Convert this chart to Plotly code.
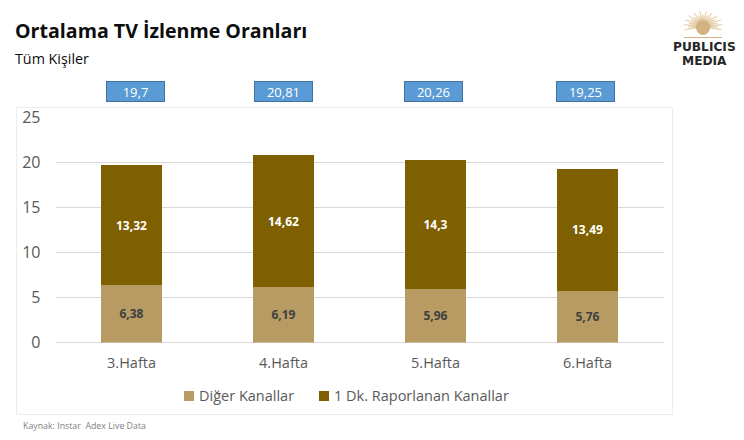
import math
import plotly.graph_objects as go

categories = ["3.Hafta", "4.Hafta", "5.Hafta", "6.Hafta"]
series_names = ["Diğer Kanallar", "1 Dk. Raporlanan Kanallar"]
diger = [6.38, 6.19, 5.96, 5.76]
raporlanan = [13.32, 14.62, 14.3, 13.49]
totals = [19.7, 20.81, 20.26, 19.25]
y_ticks = [0, 5, 10, 15, 20, 25]

W, H = 744, 440
FONT = "Open Sans"
GREY = "#595959"
TAN = "#B89B62"
BROWN = "#7F6000"


def px(x):
    return x / W


def py(y):
    return 1 - y / H


def comma(v):
    return f"{v:g}".replace(".", ",")


fig = go.Figure()
fig.add_bar(
    name=series_names[0], x=categories, y=diger,
    marker=dict(color=TAN, line_width=0),
    text=[comma(v) for v in diger], textposition="inside", insidetextanchor="middle",
    textangle=0, constraintext="none",
    textfont=dict(family=FONT, size=12, color="#404040", weight="bold"),
    hoverinfo="x+y",
)
fig.add_bar(
    name=series_names[1], x=categories, y=raporlanan,
    marker=dict(color=BROWN, line_width=0),
    text=[comma(v) for v in raporlanan], textposition="inside", insidetextanchor="middle",
    textangle=0, constraintext="none",
    textfont=dict(family=FONT, size=12, color="#FFFFFF", weight="bold"),
    hoverinfo="x+y",
)


def label(text, x, y, size, color, family=FONT, anchor="left"):
    return dict(text=text, xref="paper", yref="paper", x=px(x), y=py(y),
                xanchor=anchor, yanchor="middle", showarrow=False,
                font=dict(family=family, size=size, color=color))


annotations = [
    label("<b>Ortalama TV İzlenme Oranları</b>", 12.5, 31, 19.6, "#0D0D0D"),
    label("Tüm Kişiler", 12.5, 58.5, 14.3, "#0D0D0D"),
    label("Kaynak: Instar  Adex Live Data", 21, 425.5, 8.8, "#7F7F7F"),
    label("<b>PUBLICIS</b>", 704.5, 47.5, 12.2, "#262626", "DejaVu Sans", "center"),
    label("<b>MEDIA</b>", 704.5, 61, 12.2, "#262626", "DejaVu Sans", "center"),
    label(series_names[0], 197, 395.5, 14.5, GREY),
    label(series_names[1], 332, 395.5, 14.5, GREY),
]
box_shift = [4, 0, -2, -2]
for c, t, s in zip(categories, totals, box_shift):
    annotations.append(dict(
        text=comma(t), xref="x", yref="paper", x=c, y=py(91.5), xshift=s,
        xanchor="center", yanchor="middle", showarrow=False,
        width=57, height=19, align="center", valign="middle",
        bgcolor="#5B9BD5", bordercolor="#41719C", borderwidth=1, borderpad=0,
        font=dict(family=FONT, size=13, color="#FFFFFF"),
    ))

# Logo sunburst: decoration in pixel-derived paper coordinates
cx, cy = 703, 26
rays = []
n = 22
for i in range(n + 1):
    a = math.pi * (0.92 + 1.16 * i / n)
    r = 15 if i % 2 == 0 else 11.5
    a1, a2 = a - 0.08, a + 0.08
    rays.append(
        f"M{px(cx + 6 * math.cos(a1)):.5f},{py(cy + 6 * math.sin(a1)):.5f} "
        f"L{px(cx + r * math.cos(a) * 1.3):.5f},{py(cy + r * math.sin(a)):.5f} "
        f"L{px(cx + 6 * math.cos(a2)):.5f},{py(cy + 6 * math.sin(a2)):.5f} Z"
    )
shapes = [
    dict(type="rect", xref="paper", yref="paper", x0=px(16.5), x1=px(672.5),
         y0=py(414.5), y1=py(107.5), line=dict(color="#EDEDED", width=1),
         fillcolor="rgba(0,0,0,0)", layer="below"),
    dict(type="path", xref="paper", yref="paper", path=" ".join(rays),
         fillcolor="#E0C79C", line=dict(color="#E0C79C", width=0.5)),
    dict(type="circle", xref="paper", yref="paper", x0=px(cx - 7), x1=px(cx + 7),
         y0=py(cy + 9), y1=py(cy - 6), fillcolor="#D2B37F", line_width=0),
    dict(type="line", xref="paper", yref="paper", x0=px(684), x1=px(722),
         y0=py(37.5), y1=py(37.5), line=dict(color="#D2B37F", width=1)),
    dict(type="rect", xref="paper", yref="paper", x0=px(184), x1=px(194),
         y0=py(401), y1=py(391), fillcolor=TAN, line_width=0),
    dict(type="rect", xref="paper", yref="paper", x0=px(319), x1=px(329),
         y0=py(401), y1=py(391), fillcolor=BROWN, line_width=0),
]

fig.update_layout(
    width=W, height=H, autosize=False,
    margin=dict(l=0, r=0, t=0, b=0),
    paper_bgcolor="white", plot_bgcolor="white",
    barmode="stack", bargap=0.6,
    font=dict(family=FONT, color=GREY),
    xaxis=dict(domain=[px(55.5), px(663.5)], showgrid=False, ticks="", showline=False,
               tickfont=dict(size=14.5, color=GREY), ticklabelstandoff=10, automargin=False),
    yaxis=dict(domain=[py(342.5), py(117.5)], range=[0, 25], tickvals=y_ticks,
               gridcolor="#D9D9D9", gridwidth=1, zeroline=True, zerolinecolor="#D9D9D9",
               zerolinewidth=1, showline=False, ticks="",
               tickfont=dict(size=16, color=GREY), ticklabelstandoff=14, automargin=False),
    annotations=annotations, shapes=shapes,
    hovermode="closest", showlegend=False,
)

fig.write_html("out.html", post_script="document.body.style.margin='0';",
               config={"displayModeBar": False})
